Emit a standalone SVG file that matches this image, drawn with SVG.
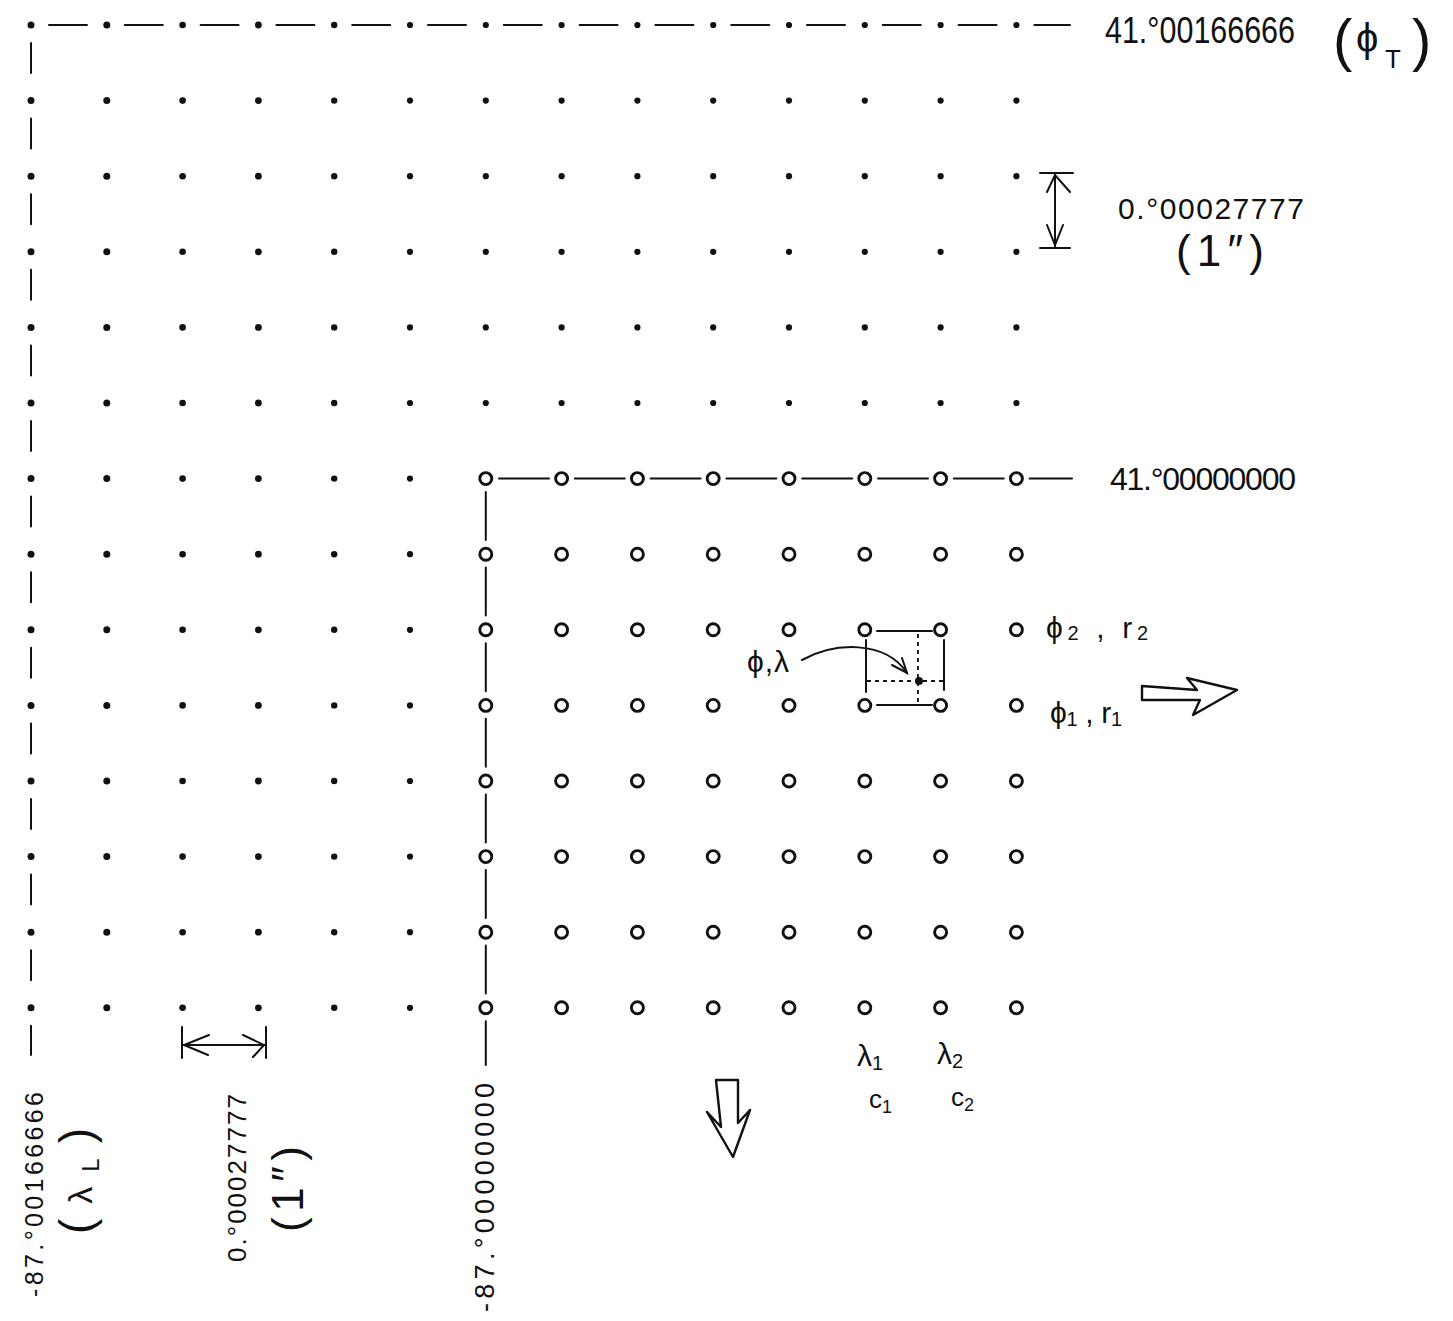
<svg xmlns="http://www.w3.org/2000/svg" xmlns:xlink="http://www.w3.org/1999/xlink" width="1453" height="1321" viewBox="0 0 1453 1321">
<style>
.dot{fill:#111}
.ring{fill:none;stroke:#111;stroke-width:2.9}
.ln{stroke:#111;stroke-width:2;fill:none;stroke-linecap:round}
.dotted{stroke:#111;stroke-width:1.8;stroke-dasharray:4 4;fill:none}
.hol{fill:#fff;stroke:#111;stroke-width:2.4;stroke-linejoin:round}
text{font-family:"Liberation Sans","DejaVu Sans",sans-serif;fill:#111}
</style>
<defs>
<g id="dotrow6">
<circle class="dot" cx="31" cy="0" r="3.5"/><circle class="dot" cx="106.8" cy="0" r="3.5"/><circle class="dot" cx="182.6" cy="0" r="3.3"/><circle class="dot" cx="258.4" cy="0" r="3.4"/><circle class="dot" cx="334.2" cy="0" r="3.2"/><circle class="dot" cx="410" cy="0" r="3.1"/>
</g>
<g id="dotrow14">
<use href="#dotrow6"/>
<circle class="dot" cx="485.8" cy="0" r="3.1"/><circle class="dot" cx="561.6" cy="0" r="3.1"/><circle class="dot" cx="637.4" cy="0" r="3.1"/><circle class="dot" cx="713.2" cy="0" r="3.1"/><circle class="dot" cx="789" cy="0" r="3.1"/><circle class="dot" cx="864.8" cy="0" r="3.1"/><circle class="dot" cx="940.6" cy="0" r="3.1"/><circle class="dot" cx="1016.4" cy="0" r="3.1"/>
</g>
<g id="ringrow8">
<circle class="ring" cx="485.8" cy="0" r="6"/><circle class="ring" cx="561.6" cy="0" r="6"/><circle class="ring" cx="637.4" cy="0" r="6"/><circle class="ring" cx="713.2" cy="0" r="6"/><circle class="ring" cx="789" cy="0" r="6"/><circle class="ring" cx="864.8" cy="0" r="6"/><circle class="ring" cx="940.6" cy="0" r="6"/><circle class="ring" cx="1016.4" cy="0" r="6"/>
</g>
</defs>
<rect width="1453" height="1321" fill="#fff"/>

<g id="connectors">
<line class="ln" x1="49" y1="25" x2="1070" y2="25" stroke-dasharray="38 37.8" stroke-width="1.6"/>
<line class="ln" x1="31" y1="43" x2="31" y2="1055" stroke-dasharray="30 45.6"/>
<line class="ln" x1="499" y1="478.6" x2="1072" y2="478.6" stroke-dasharray="50 25.8"/>
<line class="ln" x1="485.8" y1="492" x2="485.8" y2="1065" stroke-dasharray="48 27.6" stroke-width="2.4"/>
<line class="ln" x1="877" y1="631" x2="932" y2="631"/>
<line class="ln" x1="877" y1="705" x2="932" y2="705"/>
<line class="ln" x1="866" y1="640" x2="866" y2="692"/>
<line class="ln" x1="944" y1="640" x2="944" y2="690"/>
<line class="dotted" x1="918" y1="634" x2="918" y2="702"/>
<line class="dotted" x1="867" y1="681" x2="944" y2="681"/>
<path class="ln" d="M802,660 C835,642 885,640 907,673"/>
<path class="ln" d="M892,665 L907,673 L902,658"/>
</g>

<g id="grid-points">
<use href="#dotrow14" y="25"/>
<use href="#dotrow14" y="100.6"/>
<use href="#dotrow14" y="176.2"/>
<use href="#dotrow14" y="251.8"/>
<use href="#dotrow14" y="327.4"/>
<use href="#dotrow14" y="403"/>
<use href="#dotrow6" y="478.6"/><use href="#ringrow8" y="478.6"/>
<use href="#dotrow6" y="554.2"/><use href="#ringrow8" y="554.2"/>
<use href="#dotrow6" y="629.8"/><use href="#ringrow8" y="629.8"/>
<use href="#dotrow6" y="705.4"/><use href="#ringrow8" y="705.4"/>
<use href="#dotrow6" y="781"/><use href="#ringrow8" y="781"/>
<use href="#dotrow6" y="856.6"/><use href="#ringrow8" y="856.6"/>
<use href="#dotrow6" y="932.2"/><use href="#ringrow8" y="932.2"/>
<use href="#dotrow6" y="1007.8"/><use href="#ringrow8" y="1007.8"/>
<circle id="point" class="dot" cx="919" cy="681" r="4"/>
</g>

<g id="dim-vertical">
<line class="ln" x1="1055" y1="173" x2="1055" y2="248"/>
<line class="ln" x1="1040" y1="173" x2="1073" y2="173"/>
<line class="ln" x1="1040" y1="248" x2="1070" y2="248"/>
<path class="ln" d="M1047,192 L1055,175 L1070,192"/>
<path class="ln" d="M1047,225 L1055,245 L1063,225"/>
</g>
<g id="dim-horizontal">
<line class="ln" x1="182" y1="1045" x2="266" y2="1045"/>
<line class="ln" x1="182" y1="1027" x2="182" y2="1058"/>
<line class="ln" x1="266" y1="1027" x2="266" y2="1058"/>
<path class="ln" d="M209,1035 L184,1045 L208,1055"/>
<path class="ln" d="M243,1035 L264,1045 L253,1057"/>
</g>

<g id="arrow-right"><polygon class="hol" points="1142,686 1197,690 1187,678 1237,690 1193,715 1200,700 1142,700"/></g>
<g id="arrow-down"><polygon class="hol" points="716,1080 721,1127 707,1112 733,1157 750,1110 738,1123 738,1080"/></g>

<g id="labels">
<text x="1105" y="43" font-size="36" textLength="190" lengthAdjust="spacingAndGlyphs">41.°00166666</text>
<text x="1333" y="60" font-size="58">(</text>
<text x="1356" y="52" font-size="40">ϕ</text>
<text x="1385" y="68" font-size="26">T</text>
<text x="1412" y="60" font-size="58">)</text>
<text x="1118" y="219" font-size="30" textLength="186">0.°00027777</text>
<text x="1176" y="266" font-size="44" textLength="88">(1″)</text>
<text x="1110" y="490" font-size="32" textLength="186">41.°00000000</text>
<text x="747" y="672" font-size="30" textLength="42">ϕ,λ</text>
<text x="1046" y="638" font-size="30" textLength="102">ϕ<tspan font-size="20" dy="2">2</tspan><tspan dy="-2"> , r</tspan><tspan font-size="20" dy="2">2</tspan></text>
<text x="1050" y="723" font-size="30" textLength="72">ϕ<tspan font-size="20" dy="3">1</tspan><tspan dy="-3"> , r</tspan><tspan font-size="20" dy="3">1</tspan></text>
<text x="857" y="1066" font-size="30">λ<tspan font-size="20" dy="4">1</tspan></text>
<text x="937" y="1064" font-size="30">λ<tspan font-size="20" dy="4">2</tspan></text>
<text x="869" y="1108" font-size="26">c<tspan font-size="18" dy="5">1</tspan></text>
<text x="951" y="1106" font-size="26">c<tspan font-size="18" dy="5">2</tspan></text>
<text transform="translate(43,1297) rotate(-90)" font-size="25" textLength="205">-87.°00166666</text>
<text transform="translate(92,1234) rotate(-90)" font-size="46" textLength="106">(<tspan font-size="34">λ</tspan><tspan font-size="24" dy="7">L</tspan><tspan dy="-7">)</tspan></text>
<text transform="translate(246,1262) rotate(-90)" font-size="26" textLength="168">0.°00027777</text>
<text transform="translate(303,1232) rotate(-90)" font-size="44" textLength="86">(1″)</text>
<text transform="translate(494,1312) rotate(-90)" font-size="27" textLength="229">-87.°00000000</text>
</g>
</svg>
